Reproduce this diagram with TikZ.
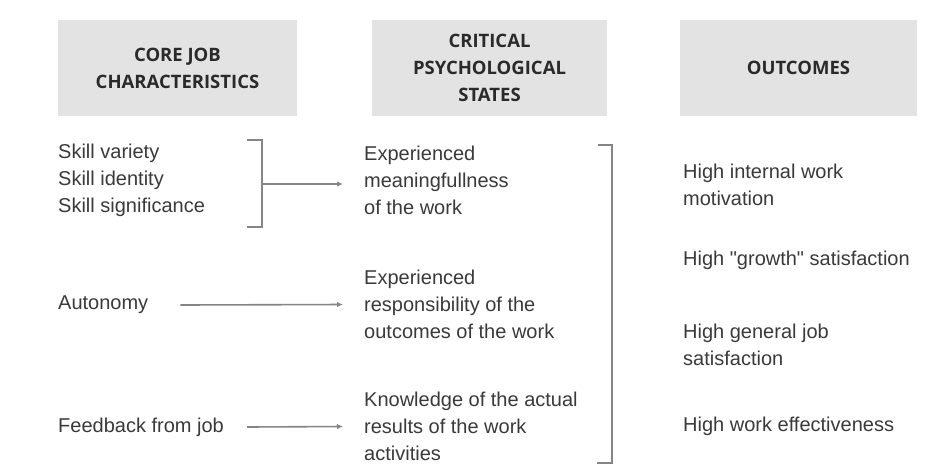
\documentclass[tikz,border=0pt]{standalone}
\usepackage{fontspec}
\setmainfont{Liberation Sans}
\newfontfamily\headfont{Open Sans}
\usetikzlibrary{arrows.meta}
\definecolor{headfill}{HTML}{E3E3E3}
\definecolor{headtext}{HTML}{2A2A2A}
\definecolor{bodytext}{HTML}{3A3A3A}
\definecolor{linegray}{HTML}{858585}
\begin{document}
\begin{tikzpicture}[x=1pt,y=-1pt,
  header/.style={fill=headfill, draw=none, minimum height=96pt, inner sep=0pt,
    align=center, text=headtext, font=\headfont\bfseries\fontsize{18.5}{27}\selectfont},
  item/.style={anchor=west, inner sep=0pt, align=left, text=bodytext,
    font=\fontsize{20}{27}\selectfont},
  brk/.style={draw=linegray, line width=1.6pt},
  arr/.style={draw=linegray, line width=1.6pt, -{Latex[length=6pt,width=5.5pt]}}
]
\useasboundingbox (0,0) rectangle (952,467);
\fill[white] (0,0) rectangle (952,467);

% column headers
\node[header, minimum width=239pt] (hcore) at (177.5,68) {CORE JOB\\CHARACTERISTICS};
\node[header, minimum width=235pt] (hcrit) at (489.5,68) {CRITICAL\\PSYCHOLOGICAL\\STATES};
\node[header, minimum width=237pt] (hout) at (798.5,68) {OUTCOMES};

% core job characteristics
\node[item] (skills) at (58,180.5) {Skill variety\\Skill identity\\Skill significance};
\node[item] (auto) at (58,305) {Autonomy};
\node[item] (feed) at (58,427) {Feedback from job};

% critical psychological states
\node[item] (mean) at (364,180) {Experienced\\meaningfullness\\of the work};
\node[item] (resp) at (364,304.5) {Experienced\\responsibility of the\\outcomes of the work};
\node[item] (know) at (364,426.5) {Knowledge of the actual\\results of the work\\activities};

% outcomes
\node[item] (o1) at (683,185) {High internal work\\motivation};
\node[item] (o2) at (683,260) {High \textquotedbl growth\textquotedbl{} satisfaction};
\node[item] (o3) at (683,345) {High general job\\satisfaction};
\node[item] (o4) at (683,426) {High work effectiveness};

% bracket grouping the three skill items
\coordinate (sbt) at (262,140);
\coordinate (sbb) at (262,227);
\coordinate (sbm) at (262,184);
\draw[brk] ([xshift=-15pt]sbt) -- (sbt) -- (sbb) -- ([xshift=-15pt]sbb);

% bracket grouping the psychological states
\coordinate (pbt) at (612,145);
\coordinate (pbb) at (612,463);
\draw[brk] ([xshift=-14pt]pbt) -- (pbt) -- (pbb) -- ([xshift=-15pt]pbb);

% arrows into the psychological states
\draw[arr] (sbm) -- ([xshift=-21pt]mean.west |- sbm);
\draw[arr] ([xshift=32pt]auto.east) -- ([xshift=-21pt]resp.west);
\draw[arr] ([xshift=23pt]feed.east) -- ([xshift=-21pt]know.west);
\end{tikzpicture}
\end{document}
